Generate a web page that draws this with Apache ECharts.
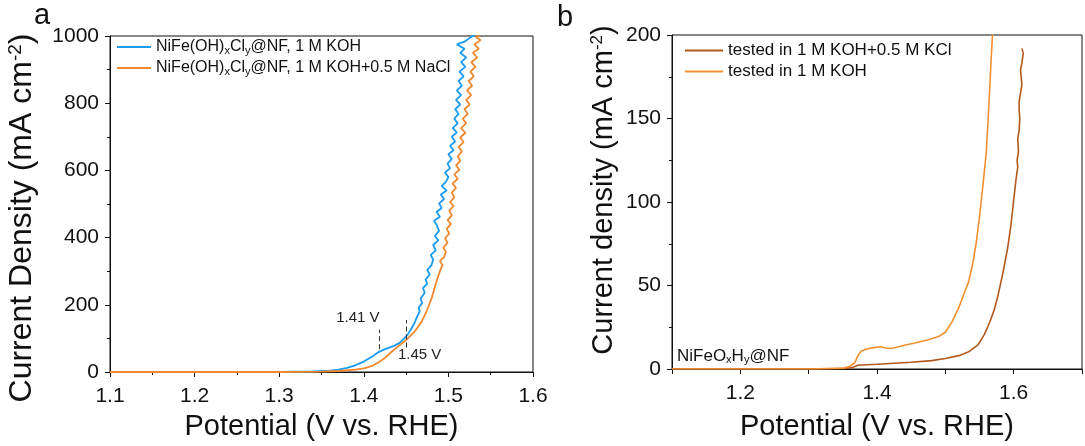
<!DOCTYPE html>
<html>
<head>
<meta charset="utf-8">
<script src="https://cdn.jsdelivr.net/npm/echarts@6/dist/echarts.min.js"></script>
<style>
html,body{margin:0;padding:0;background:#fff;}
#c{width:1085px;height:446px;}
</style>
</head>
<body>
<div id="c"></div>
<script>
// ---- Panel a data: [potential (V vs RHE), current density (mA cm-2)]
const aNames = ['NiFe(OH)xCly@NF, 1 M KOH', 'NiFe(OH)xCly@NF, 1 M KOH+0.5 M NaCl'];
const aKOH = [[1.100,0],[1.200,0],[1.300,0.5],[1.340,1.5],[1.360,4],[1.370,7],[1.380,12],[1.390,20],[1.400,31],[1.410,46],[1.418,60],[1.425,68],[1.435,77],[1.442,86],[1.447,98],[1.452,112],[1.456,128],[1.460,146],[1.463,165],[1.466,180],[1.465,192],[1.469,205],[1.467,218],[1.472,236],[1.470,250],[1.475,262],[1.473,275],[1.478,290],[1.475,303],[1.480,318],[1.482,335],[1.479,348],[1.485,362],[1.482,378],[1.488,392],[1.484,405],[1.489,420],[1.486,438],[1.483,450],[1.490,462],[1.486,476],[1.492,488],[1.489,502],[1.495,515],[1.491,528],[1.498,540],[1.492,553],[1.497,566],[1.500,580],[1.496,594],[1.502,606],[1.499,620],[1.504,634],[1.500,648],[1.506,660],[1.502,673],[1.508,686],[1.504,700],[1.510,713],[1.505,726],[1.511,740],[1.507,754],[1.512,768],[1.508,782],[1.514,796],[1.509,810],[1.515,824],[1.510,838],[1.516,852],[1.512,866],[1.518,880],[1.513,894],[1.520,908],[1.515,922],[1.521,936],[1.514,950],[1.519,962],[1.510,975],[1.519,983],[1.523,990],[1.526,996],[1.529,1000],[1.531,1005]];
const aNaCl = [[1.100,0],[1.300,0],[1.350,1],[1.370,3],[1.390,7],[1.400,11],[1.410,18],[1.418,30],[1.425,42],[1.432,58],[1.440,75],[1.450,95],[1.460,120],[1.468,148],[1.474,180],[1.480,218],[1.485,262],[1.488,285],[1.490,300],[1.493,318],[1.490,330],[1.495,343],[1.497,358],[1.494,370],[1.499,385],[1.496,398],[1.501,412],[1.498,426],[1.503,440],[1.499,452],[1.504,466],[1.501,480],[1.506,494],[1.502,506],[1.507,520],[1.504,534],[1.509,548],[1.505,561],[1.511,575],[1.507,588],[1.513,602],[1.509,615],[1.514,628],[1.511,642],[1.516,656],[1.512,670],[1.518,684],[1.514,698],[1.520,712],[1.515,726],[1.521,740],[1.517,754],[1.523,768],[1.519,782],[1.525,796],[1.521,810],[1.527,824],[1.522,838],[1.528,852],[1.524,866],[1.530,880],[1.526,894],[1.532,908],[1.527,922],[1.534,936],[1.529,950],[1.536,962],[1.531,975],[1.538,988],[1.533,996],[1.538,1005]];
// annotation dashed markers (potential, y from, y to) and labels
const annoLines = [[1.418, 68, 126], [1.450, 73, 155]];
const annoLabels = [['1.41 V', 1.393, 160], ['1.45 V', 1.466, 52]];
const aXTicks = {min: 1.1, max: 1.6, interval: 0.1};
const aYTicks = {min: 0, max: 1000, interval: 200};

// ---- Panel b data
const bNames = ['tested in 1 M KOH+0.5 M KCl', 'tested in 1 M KOH'];
const bKCl = [[1.100,0],[1.300,0],[1.355,0.3],[1.365,1],[1.372,2.2],[1.400,2.8],[1.450,4],[1.480,5],[1.500,6.3],[1.520,8],[1.535,10.5],[1.548,14.5],[1.557,20.6],[1.565,28],[1.572,36],[1.577,44],[1.584,57],[1.591,72],[1.596,86],[1.600,101],[1.603,112],[1.606,121],[1.605,125],[1.607,130],[1.606,138],[1.608,143],[1.609,150],[1.608,155],[1.608,160],[1.610,165],[1.612,170],[1.611,175],[1.610,179],[1.612,183],[1.614,189],[1.612,192]];
const bKOH = [[1.100,0],[1.300,0],[1.350,0.5],[1.360,1.5],[1.368,4],[1.372,8],[1.377,10.8],[1.385,12],[1.395,12.8],[1.405,13.3],[1.413,12.6],[1.421,12.3],[1.430,13.2],[1.440,14.2],[1.457,15.7],[1.475,17.5],[1.491,19.6],[1.500,22],[1.510,28.4],[1.520,37],[1.528,46],[1.534,52],[1.540,63],[1.545,75],[1.550,91],[1.555,110],[1.560,130],[1.564,160],[1.567,185],[1.569,200],[1.570,210]];
const bXTicks = {min: 1.1, max: 1.7, interval: 0.1};
const bYTicks = {min: 0, max: 200, interval: 50};
const bNote = 'NiFeO{sub|x}H{sub|y}@NF';

const FONT = 'Liberation Sans, Arial, sans-serif';
const black = '#111';
const supRich = fs => ({sup: {fontSize: Math.round(fs * 0.58), verticalAlign: 'top', fontFamily: FONT, color: black, padding: [0,0,8,0]}});
const subRich = {sub: {fontSize: 11, verticalAlign: 'bottom', fontFamily: FONT, color: black, padding: [7,0,0,0]}};

function xAxis(gi, t, fmt, gap) {
  return {type: 'value', gridIndex: gi, min: t.min, max: t.max, interval: t.interval,
    name: 'Potential (V vs. RHE)', nameLocation: 'middle', nameGap: gap,
    nameTextStyle: {fontSize: 29, color: black, fontFamily: FONT},
    axisLine: {show: true, onZero: false, lineStyle: {color: black, width: 1}},
    axisTick: {show: true, inside: false, length: 5, lineStyle: {color: black}},
    minorTick: {show: gi === 0, splitNumber: 2, length: 3, lineStyle: {color: black}},
    axisLabel: {fontSize: 21, color: black, fontFamily: FONT, margin: 14, formatter: fmt},
    splitLine: {show: false}};
}
function yAxis(gi, t, name, gap, fs, pad) {
  return {type: 'value', gridIndex: gi, min: t.min, max: t.max, interval: t.interval,
    name: name, nameLocation: 'middle', nameGap: gap,
    nameTextStyle: {fontSize: fs, color: black, fontFamily: FONT, rich: supRich(fs), padding: pad},
    axisLine: {show: true, onZero: false, lineStyle: {color: black, width: 1}},
    axisTick: {show: true, inside: false, length: 5, lineStyle: {color: black}},
    minorTick: {show: true, splitNumber: 2, length: 3, lineStyle: {color: black}},
    axisLabel: {fontSize: 21, color: black, fontFamily: FONT, margin: 11, formatter: v => String(v)},
    splitLine: {show: false}};
}

const chart = echarts.init(document.getElementById('c'), null, {renderer: 'canvas'});
chart.setOption({
  animation: false,
  backgroundColor: '#fff',
  grid: [
    {left: 110, right: 552, top: 36, bottom: 66, show: true, borderColor: black, borderWidth: 1, containLabel: false},
    {left: 672, right: -8, top: 35, bottom: 70, show: true, borderColor: black, borderWidth: 1, containLabel: false}
  ],
  xAxis: [
    xAxis(0, aXTicks, v => v.toFixed(1), 40),
    xAxis(1, bXTicks, v => (Math.round(v * 10) % 2 === 0 ? v.toFixed(1) : ''), 43)
  ],
  yAxis: [
    yAxis(0, aYTicks, 'Current Density (mA cm{sup|-2})', 72, 32, [0, 28, 0, 0]),
    yAxis(1, bYTicks, 'Current density (mA cm{sup|-2})', 54, 29, [0, 0, 0, 24])
  ],
  legend: [
    {data: aNames, left: 117, top: 39, padding: 0, orient: 'vertical', itemWidth: 34, itemHeight: 14, itemGap: 4,
     icon: 'path://M0,6 L34,6 L34,8 L0,8 Z',
     formatter: n => n.replace('(OH)xCly', '(OH){sub|x}Cl{sub|y}'),
     textStyle: {fontSize: 16, color: black, fontFamily: FONT, rich: subRich}},
    {data: bNames, left: 685, top: 42, padding: 0, orient: 'vertical', itemWidth: 38, itemHeight: 14, itemGap: 4,
     icon: 'path://M0,6 L38,6 L38,8 L0,8 Z',
     textStyle: {fontSize: 17, color: black, fontFamily: FONT}}
  ],
  series: [
    {name: aNames[0], type: 'line', xAxisIndex: 0, yAxisIndex: 0, data: aKOH, symbol: 'none',
     lineStyle: {color: '#1B9CF0', width: 1.8}, itemStyle: {color: '#1B9CF0'}},
    {name: aNames[1], type: 'line', xAxisIndex: 0, yAxisIndex: 0, data: aNaCl, symbol: 'none',
     lineStyle: {color: '#F0892E', width: 1.8}, itemStyle: {color: '#F0892E'},
     markLine: {silent: true, symbol: 'none', animation: false,
       lineStyle: {type: [5, 3], color: '#333', width: 1},
       label: {show: false},
       data: annoLines.map(l => [{coord: [l[0], l[1]]}, {coord: [l[0], l[2]]}])},
     markPoint: {silent: true, symbol: 'circle', symbolSize: 0,
       label: {show: true, position: 'inside', formatter: '{b}', fontSize: 15, color: '#222', fontFamily: FONT},
       data: annoLabels.map(l => ({name: l[0], coord: [l[1], l[2]]}))}},
    {name: bNames[0], type: 'line', xAxisIndex: 1, yAxisIndex: 1, data: bKCl, symbol: 'none',
     lineStyle: {color: '#B4581C', width: 1.6}, itemStyle: {color: '#B4581C'}},
    {name: bNames[1], type: 'line', xAxisIndex: 1, yAxisIndex: 1, data: bKOH, symbol: 'none',
     lineStyle: {color: '#F2902F', width: 1.6}, itemStyle: {color: '#F2902F'}}
  ],
  graphic: [
    {type: 'text', left: 34, top: 1, style: {text: 'a', fontSize: 29, fill: black, fontFamily: FONT}},
    {type: 'text', left: 557, top: 3, style: {text: 'b', fontSize: 29, fill: black, fontFamily: FONT}},
    {type: 'text', left: 677, top: 348, style: {text: bNote, fontSize: 17, fill: black, fontFamily: FONT,
      rich: {sub: {fontSize: 11, verticalAlign: 'bottom', fill: black, fontFamily: FONT, padding: [7,0,0,0]}}}}
  ]
});
</script>
</body>
</html>
